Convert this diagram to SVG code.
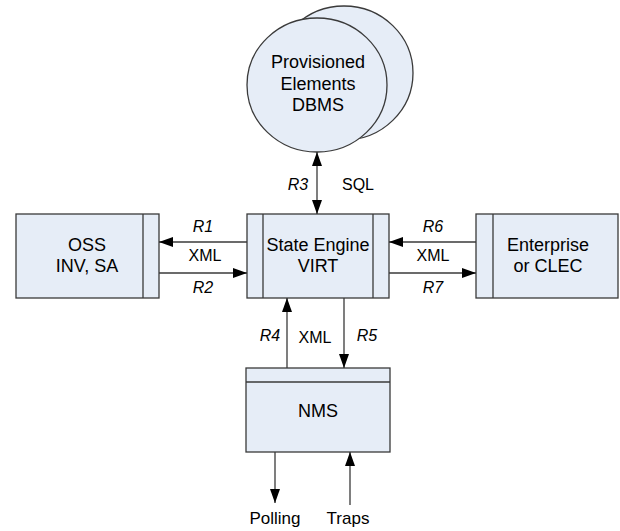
<svg xmlns="http://www.w3.org/2000/svg" width="620" height="531" viewBox="0 0 620 531">
<defs>
<style>
.box{fill:#E6EDF7;stroke:#3a3a3a;stroke-width:1.3}
.ln{stroke:#3a3a3a;stroke-width:1.3;fill:none}
.t{font-family:"Liberation Sans",Arial,sans-serif;font-size:18px;fill:#000;text-anchor:middle}
.l{font-family:"Liberation Sans",Arial,sans-serif;font-size:16px;fill:#000;text-anchor:middle}
.b{font-size:17px}
.i{font-style:italic}
</style>
<marker id="ah" viewBox="0 0 14 10" refX="14" refY="5" markerWidth="14" markerHeight="10" markerUnits="userSpaceOnUse" orient="auto-start-reverse">
<path d="M0,0 L14,5 L0,10 Z" fill="#000"/>
</marker>
</defs>
<rect width="620" height="531" fill="#fff"/>
<g id="dbms">
<ellipse class="box" cx="344" cy="73" rx="69" ry="67"/>
<ellipse class="box" cx="317" cy="85" rx="70" ry="67"/>
<text class="t" x="318" y="68">Provisioned</text>
<text class="t" x="318" y="90">Elements</text>
<text class="t" x="318" y="111">DBMS</text>
</g>
<g id="oss">
<rect class="box" x="16" y="214" width="143" height="84"/>
<line class="ln" x1="143" y1="214" x2="143" y2="298"/>
<text class="t" x="87" y="251">OSS</text>
<text class="t" x="87" y="272">INV, SA</text>
</g>
<g id="state">
<rect class="box" x="247" y="214" width="142" height="84"/>
<line class="ln" x1="263" y1="214" x2="263" y2="298"/>
<line class="ln" x1="373" y1="214" x2="373" y2="298"/>
<text class="t" x="318" y="251">State Engine</text>
<text class="t" x="318" y="272">VIRT</text>
</g>
<g id="enterprise">
<rect class="box" x="476" y="214" width="142" height="84"/>
<line class="ln" x1="493" y1="214" x2="493" y2="298"/>
<text class="t" x="548" y="251">Enterprise</text>
<text class="t" x="548" y="272">or CLEC</text>
</g>
<g id="nms">
<rect class="box" x="246" y="368" width="144" height="84"/>
<line class="ln" x1="246" y1="382" x2="390" y2="382"/>
<text class="t" x="318" y="417">NMS</text>
</g>
<g id="connectors">
<line class="ln" x1="317" y1="152" x2="317" y2="214" marker-start="url(#ah)" marker-end="url(#ah)"/>
<line class="ln" x1="247" y1="242" x2="159" y2="242" marker-end="url(#ah)"/>
<line class="ln" x1="159" y1="273" x2="247" y2="273" marker-end="url(#ah)"/>
<line class="ln" x1="476" y1="242" x2="389" y2="242" marker-end="url(#ah)"/>
<line class="ln" x1="389" y1="273" x2="476" y2="273" marker-end="url(#ah)"/>
<line class="ln" x1="287" y1="368" x2="287" y2="298" marker-end="url(#ah)"/>
<line class="ln" x1="344" y1="298" x2="344" y2="368" marker-end="url(#ah)"/>
<line class="ln" x1="275" y1="452" x2="275" y2="503" marker-end="url(#ah)"/>
<line class="ln" x1="350" y1="505" x2="350" y2="452" marker-end="url(#ah)"/>
</g>
<g id="labels">
<text class="l i" x="298" y="190">R3</text>
<text class="l" x="358" y="190">SQL</text>
<text class="l i" x="203" y="232">R1</text>
<text class="l" x="205" y="261">XML</text>
<text class="l i" x="203" y="293">R2</text>
<text class="l i" x="433" y="232">R6</text>
<text class="l" x="433" y="261">XML</text>
<text class="l i" x="433" y="293">R7</text>
<text class="l i" x="270" y="341">R4</text>
<text class="l" x="315" y="343">XML</text>
<text class="l i" x="367" y="341">R5</text>
<text class="l b" x="275" y="524">Polling</text>
<text class="l b" x="348" y="524">Traps</text>
</g>
</svg>
